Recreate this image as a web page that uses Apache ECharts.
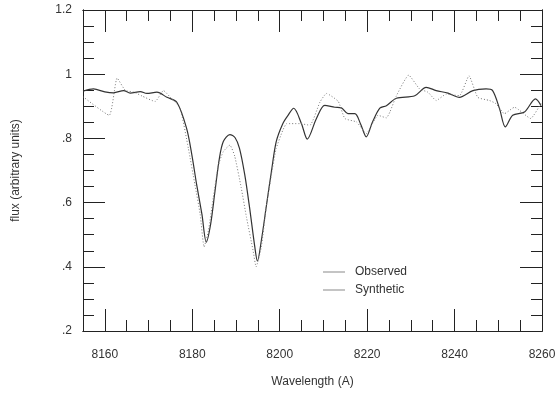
<!DOCTYPE html>
<html>
<head>
<meta charset="utf-8">
<script src="https://cdn.jsdelivr.net/npm/echarts@6/dist/echarts.min.js"></script>
<style>
  html, body { margin: 0; padding: 0; background: #fff; }
  #main { width: 560px; height: 393px; }
</style>
</head>
<body>
<div id="main"></div>
<script>
// observed spectrum (wavelength, flux)
const obsWave = [8155, 8157.4, 8160, 8162, 8164.3, 8165.8, 8168.1, 8169.6, 8171.9, 8174.2,
  8176.5, 8178.7, 8179.9, 8181.0, 8182.2, 8183.2, 8184.2, 8185.2, 8186.2, 8187.1,
  8188.6, 8189.8, 8190.8, 8192.0, 8193.1, 8194.3, 8194.9, 8195.8, 8196.9, 8198.1,
  8199.2, 8200.7, 8201.9, 8203.2, 8205.0, 8206.3, 8208.4, 8210.3, 8212.6, 8214.1,
  8215.6, 8217.2, 8218.5, 8219.8, 8221.2, 8222.9, 8224.4, 8226.7, 8230.9, 8233.5,
  8235.8, 8238.5, 8241.1, 8244.2, 8247.2, 8248.7, 8250.3, 8251.6, 8253.3, 8256.0,
  8258.5, 8259.8];
const obsFlux = [0.947, 0.954, 0.945, 0.942, 0.949, 0.941, 0.946, 0.940, 0.944, 0.928,
  0.912, 0.831, 0.749, 0.656, 0.564, 0.477, 0.533, 0.636, 0.738, 0.790,
  0.812, 0.802, 0.769, 0.687, 0.585, 0.462, 0.418, 0.482, 0.585, 0.697,
  0.790, 0.846, 0.872, 0.894, 0.845, 0.798, 0.862, 0.903, 0.897, 0.895,
  0.877, 0.877, 0.845, 0.805, 0.850, 0.894, 0.902, 0.925, 0.933, 0.959,
  0.949, 0.941, 0.928, 0.949, 0.954, 0.949, 0.892, 0.836, 0.872, 0.882,
  0.923, 0.902];

// synthetic spectrum
const synWave = [8155, 8161.0, 8162.8, 8164.7, 8166.5, 8168.5, 8171.5, 8173.4, 8175.3, 8177.2,
  8179.1, 8180.6, 8181.8, 8182.7, 8183.7, 8184.8, 8186.0, 8187.1, 8188.6, 8189.7,
  8191.2, 8192.4, 8193.9, 8194.6, 8195.8, 8196.9, 8198.1, 8199.2, 8200.7, 8201.6,
  8204.6, 8206.9, 8209.2, 8210.7, 8213.4, 8214.9, 8217.6, 8219.8, 8222.5, 8224.4,
  8225.2, 8226.7, 8229.5, 8232.0, 8233.9, 8235.8, 8238.1, 8241.1, 8243.3, 8245.3,
  8248.0, 8249.5, 8251.4, 8253.7, 8257.4, 8259.8];
const synFlux = [0.930, 0.872, 0.988, 0.949, 0.945, 0.932, 0.915, 0.949, 0.923, 0.895,
  0.769, 0.656, 0.564, 0.462, 0.513, 0.615, 0.718, 0.759, 0.779, 0.745,
  0.646, 0.554, 0.451, 0.400, 0.462, 0.585, 0.687, 0.769, 0.825, 0.846,
  0.846, 0.841, 0.913, 0.940, 0.915, 0.862, 0.851, 0.815, 0.872, 0.864,
  0.882, 0.933, 0.997, 0.954, 0.944, 0.918, 0.938, 0.933, 0.995, 0.928,
  0.918, 0.908, 0.877, 0.897, 0.862, 0.910];

const xLabels = [8160, 8180, 8200, 8220, 8240, 8260];
const yLabels = { '0.2': '.2', '0.4': '.4', '0.6': '.6', '0.8': '.8', '1': '1', '1.2': '1.2' };

const FONT = '"Liberation Sans", Arial, sans-serif';
const AX = '#222';

function xAxisDef(pos, major) {
  const a = {
    type: 'value', position: pos, min: 8155, max: 8260,
    axisLine: { show: true, onZero: false, lineStyle: { color: AX, width: 1 } },
    splitLine: { show: false },
    axisTick: { show: true, inside: true, length: major ? 22 : 11, lineStyle: { color: AX } },
    axisLabel: { show: false }
  };
  if (major) {
    a.axisTick.customValues = xLabels;
    if (pos === 'bottom') {
      a.axisLabel = {
        show: true, customValues: xLabels, margin: 18, color: '#333', fontSize: 12, fontFamily: FONT,
        formatter: v => String(v)
      };
      a.name = 'Wavelength (A)';
      a.nameLocation = 'middle';
      a.nameGap = 45;
      a.nameTextStyle = { color: '#333', fontSize: 12, fontFamily: FONT };
    }
  } else {
    a.interval = 5;
  }
  return a;
}

function yAxisDef(pos, major) {
  const a = {
    type: 'value', position: pos, min: 0.2, max: 1.2,
    interval: major ? 0.2 : 0.05,
    axisLine: { show: true, onZero: false, lineStyle: { color: AX, width: 1 } },
    splitLine: { show: false },
    axisTick: { show: true, inside: true, length: major ? 22 : 11, lineStyle: { color: AX } },
    axisLabel: { show: false }
  };
  if (major && pos === 'left') {
    a.axisLabel = {
      show: true, margin: 11, color: '#333', fontSize: 12, fontFamily: FONT,
      formatter: v => yLabels[String(Math.round(v * 10) / 10)] || ''
    };
    a.name = 'flux (arbitrary units)';
    a.nameLocation = 'middle';
    a.nameRotate = 90;
    a.nameGap = 61;
    a.nameTextStyle = { color: '#333', fontSize: 12, fontFamily: FONT };
  }
  return a;
}

const chart = echarts.init(document.getElementById('main'), null, { renderer: 'canvas' });
chart.setOption({
  backgroundColor: '#fff',
  animation: false,
  grid: { left: 83, right: 18, top: 10, bottom: 58 },
  xAxis: [xAxisDef('bottom', true), xAxisDef('bottom', false), xAxisDef('top', true), xAxisDef('top', false)],
  yAxis: [yAxisDef('left', true), yAxisDef('left', false), yAxisDef('right', true), yAxisDef('right', false)],
  legend: {
    show: true,
    orient: 'vertical', left: 318, top: 261,
    icon: 'rect',
    itemWidth: 22, itemHeight: 1, itemGap: 6,
    itemStyle: { color: '#888', borderWidth: 0 },
    textStyle: { color: '#333', fontSize: 12, fontFamily: FONT, padding: [0, 0, 0, 5] },
    data: ['Observed', 'Synthetic']
  },
  series: [
    {
      name: 'Observed', type: 'line', symbol: 'none', smooth: 0.3,
      color: '#333',
      lineStyle: { color: '#333', width: 1.2 },
      data: obsWave.map((w, i) => [w, obsFlux[i]])
    },
    {
      name: 'Synthetic', type: 'line', symbol: 'none', smooth: 0.15,
      color: '#777',
      lineStyle: { color: '#777', width: 1, type: [1, 2] },
      data: synWave.map((w, i) => [w, synFlux[i]])
    }
  ]
});
</script>
</body>
</html>
